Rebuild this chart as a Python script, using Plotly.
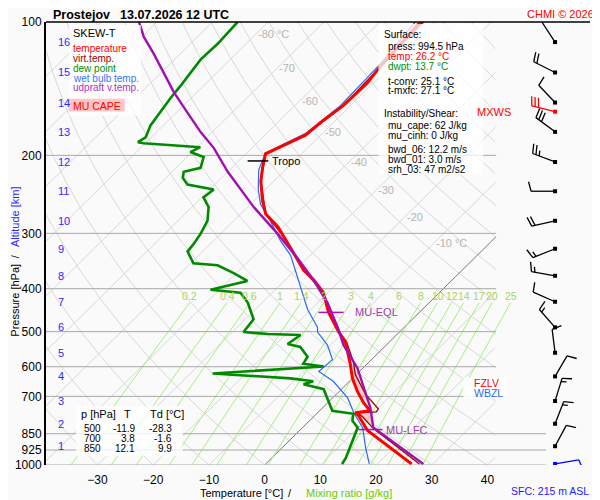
import numpy as np
import plotly.graph_objects as go

# ---- sounding: pressure [hPa], temperature [deg C] ----
temp_p = [100.0, 101.5, 125.8, 137.3, 154.5, 166.8, 180.1, 192.5, 198.4, 213.2, 229.0, 253.7,
          271.2, 289.8, 305.0, 332.8, 363.0, 382.0, 408.4, 452.4, 501.0, 527.4, 593.0, 637.5,
          681.3, 724.4, 754.7, 762.4, 774.2, 806.6, 836.0, 994.5]
temp_t = [-52.2, -52.7, -51.8, -51.1, -51.3, -52.2, -52.7, -55.4, -56.5, -54.5, -52.3, -48.4,
          -45.5, -41.0, -38.2, -33.3, -28.5, -24.9, -20.8, -16.3, -10.9, -7.9, -2.9, 0.0,
          3.2, 6.5, 9.1, 6.8, 7.9, 10.2, 12.2, 26.2]

virt_p = [100.0, 125.8, 154.5, 180.1, 198.4, 229.0, 271.2, 305.0, 363.0, 408.4, 452.4, 501.0,
          527.4, 584.1, 624.6, 691.8, 724.4, 747.0, 758.6, 762.4, 778.1, 827.5, 994.5]
virt_t = [-52.2, -51.8, -51.3, -52.7, -56.5, -52.3, -45.5, -38.2, -28.5, -20.8, -16.2, -10.8,
          -7.7, -2.9, -0.2, 5.2, 8.2, 10.2, 10.4, 7.2, 8.8, 12.9, 27.6]

dewp_p = [100.0, 112.0, 121.6, 130.6, 139.6, 148.4, 162.7, 171.2, 182.2, 186.8, 187.8, 191.7,
          196.6, 201.8, 213.4, 217.8, 224.6, 232.8, 238.8, 248.8, 261.7, 281.2, 300.4, 316.5,
          329.6, 350.5, 354.1, 368.7, 384.2, 402.3, 408.4, 429.8, 469.0, 488.6, 501.0, 506.3,
          508.9, 533.2, 541.2, 569.6, 590.6, 599.5, 621.3, 637.5, 647.3, 657.4, 674.3, 717.0,
          754.7, 766.3, 794.3, 823.3, 879.9, 964.8, 994.5]
dewp_t = [-85.5, -85.1, -85.3, -84.6, -84.1, -83.7, -82.8, -82.3, -81.0, -81.5, -80.3, -69.4,
          -70.3, -67.0, -65.6, -67.9, -67.0, -64.9, -59.3, -59.7, -57.0, -54.7, -53.6, -53.0,
          -52.7, -49.5, -44.8, -40.5, -36.6, -41.6, -35.7, -32.6, -28.5, -28.1, -28.0, -23.3,
          -17.2, -17.9, -15.1, -12.0, -11.5, -7.3, -26.0, -11.1, -6.5, -7.7, -3.2, -0.2,
          2.3, 6.6, 7.7, 9.9, 11.3, 13.3, 13.7]

wetb_p = [100.0, 125.8, 154.5, 178.4, 197.6, 215.6, 238.8, 257.9, 281.2, 311.6, 336.3, 382.3,
          445.5, 488.6, 501.0, 535.7, 578.3, 615.0, 647.3, 705.7, 762.4, 823.3, 912.1, 994.5]
wetb_t = [-53.6, -52.2, -51.8, -53.0, -56.6, -54.8, -51.3, -48.2, -43.4, -38.0, -33.5, -27.6,
          -20.6, -15.6, -14.7, -10.6, -7.0, -7.3, -2.9, 2.7, 6.5, 10.8, 14.9, 18.6]

parc_p = [100.0, 108.1, 117.9, 130.6, 144.2, 160.2, 177.5, 192.6, 217.8, 261.7, 300.4, 341.6,
          382.3, 429.8, 493.3, 535.7, 605.2, 743.2, 823.3, 994.5]
parc_t = [-103.2, -99.6, -94.8, -89.4, -84.1, -78.0, -72.0, -66.8, -60.0, -48.9, -39.8, -31.7,
          -24.9, -18.3, -11.5, -7.7, -0.9, 8.6, 12.7, 28.3]

# CAPE areas (outline)
cape1_p = [590.6, 624.6, 688.0, 724.4, 698.9, 664.1, 631.0]
cape1_t = [-2.7, 0.2, 4.8, 7.3, 5.0, 2.2, -0.2]
cape2_p = [762.4, 762.4, 823.3, 778.1]
cape2_t = [7.2, 9.7, 12.7, 8.8]

# levels
tropo_p, tropo_t = 205.9, [-58.4, -54.7]
eql_p, eql_t = 452.4, [-18.1, -13.6]
lfc_p, lfc_t = 831.8, [10.4, 14.7]
fzlv_p, wbzl_p, mxws_p = 653.0, 689.0, 159.4

# altitude [km] and wind
alt_km = list(range(1, 17))
alt_p = [907, 807, 717, 631, 558, 489, 428, 374, 325, 281, 241, 207, 177, 152, 130, 111]
wind_dir = [28, 21, 17, 30, 353, 319, 294, 280, 248, 257, 270, 291, 307, 317, 297, 327]
wind_spd = [10, 15, 15, 10, 10, 15, 10, 15, 15, 20, 10, 25, 30, 10, 20, 10]
sfc_dir, sfc_spd = 80, 10
mxws_dir, mxws_spd = 284, 30

# texts
p_ticks = [100, 200, 300, 400, 500, 600, 700, 850, 925, 1000]
t_ticks = [-30, -20, -10, 0, 10, 20, 30, 40]
iso_labels = [-80, -70, -60, -50, -40, -30, -20, -10]
iso_label_p = [106.3, 127.3, 150.7, 177.5, 206.8, 239.9, 275.6, 316.2]
mr_vals = [0.2, 0.4, 0.6, 1, 1.4, 2, 3, 4, 6, 8, 10, 12, 14, 17, 20, 25]
mr_text = ["0.2", "0.4", "0.6", "1", "1.4", "2", "3", "4", "6", "8", "10", "12", "14", "17", "20", "25"]
tab_p = [500, 700, 850]
tab_t = [-11.9, 3.8, 12.1]
tab_td = [-28.3, -1.6, 9.9]
sfc_press, sfc_temp, sfc_dwpt = 994.5, 26.2, 13.7
t_conv, t_mxfc = 25.1, 27.1
mu_cape, mu_cinh = 62, 0
bwd_06, bwd_01, srh_03 = 12.2, 3.0, 47

# ---- geometry (in page pixels; the page body adds an 8px margin) ----
OFF = 8
W, H = 600 - OFF, 500 - OFF
L, R, TOP, BOT = 45, 590, 15, 465
XMIN, XMAX = -39.25, 58.42
PX_DEG = (R - L) / (XMAX - XMIN)
PX_LN = (BOT - TOP) / np.log(10)
SKEW = PX_LN / PX_DEG
XCLIP = XMIN + (496 - L) / PX_DEG
XCLIP_LOW = XMIN + (546 - L) / PX_DEG
BARB_X = XMIN + (555 - L) / PX_DEG
FONT = "Liberation Sans, Arial, sans-serif"
BG = "#fafafa"


def sx(t, p):
    return list(np.asarray(t, float) + SKEW * np.log(1000.0 / np.asarray(p, float)))


def pxx(x):
    return (x - L) / (R - L)


def pxy(y):
    return (BOT - y) / (BOT - TOP)


fig = go.Figure()

# background lines: isotherms and dry adiabats
plev = np.geomspace(1000, 100, 300)
gx, gy = [], []
for t in range(-120, 50, 10):
    if t == 0:
        continue
    xs = t + SKEW * np.log(1000 / plev)
    gx += [v if v <= XCLIP else None for v in xs] + [None]
    gy += list(plev) + [None]
for th in range(-40, 200, 10):
    tt = (th + 273.15) * (plev / 1000) ** 0.2857 - 273.15
    xs = tt + SKEW * np.log(1000 / plev)
    gx += [v if v <= XCLIP else None for v in xs] + [None]
    gy += list(plev) + [None]
fig.add_trace(go.Scatter(x=gx, y=gy, mode="lines", line=dict(color="#d8d8d8", width=1),
                         hoverinfo="skip"))

zx = 0 + SKEW * np.log(1000 / plev)
fig.add_trace(go.Scatter(x=[v if v <= XCLIP else None for v in zx], y=plev, mode="lines",
                         line=dict(color="#777777", width=1), hoverinfo="skip"))

# mixing ratio lines
mx, my = [], []
pm = np.geomspace(1000, 430, 40)
for w in mr_vals:
    e = w * pm / (622 + w)
    a = np.log(e / 6.112)
    td = 243.5 * a / (17.67 - a)
    mx += sx(td, pm) + [None]
    my += list(pm) + [None]
fig.add_trace(go.Scatter(x=mx, y=my, mode="lines",
                         line=dict(color="#a4f07c", width=1), hoverinfo="skip"))

# isobars
ix, iy = [], []
for p in p_ticks[1:]:
    ix += [XMIN, XCLIP_LOW if p >= 850 else XCLIP, None]
    iy += [p, p, None]
fig.add_trace(go.Scatter(x=ix, y=iy, mode="lines", line=dict(color="#a8a8a8", width=1),
                         hoverinfo="skip"))

# CAPE
for cp, ct in ((cape1_p, cape1_t), (cape2_p, cape2_t)):
    fig.add_trace(go.Scatter(x=sx(ct, cp), y=cp, mode="lines", fill="toself",
                             fillcolor="rgba(250,170,170,0.6)", line=dict(width=0),
                             hoverinfo="skip"))

# profiles
fig.add_trace(go.Scatter(x=sx(wetb_t, wetb_p), y=wetb_p, mode="lines",
                         line=dict(color="#2a6cf0", width=1.2), hoverinfo="skip"))
fig.add_trace(go.Scatter(x=sx(dewp_t, dewp_p), y=dewp_p, mode="lines",
                         line=dict(color="#008a00", width=2.6), hoverinfo="skip"))
fig.add_trace(go.Scatter(x=sx(virt_t, virt_p), y=virt_p, mode="lines",
                         line=dict(color="#9a0000", width=1.3), hoverinfo="skip"))
fig.add_trace(go.Scatter(x=sx(temp_t, temp_p), y=temp_p, mode="lines",
                         line=dict(color="#ff0000", width=3), hoverinfo="skip"))
fig.add_trace(go.Scatter(x=sx(parc_t, parc_p), y=parc_p, mode="lines",
                         line=dict(color="#a010b0", width=2.4), hoverinfo="skip"))

# level markers
for lp, lt, col in ((tropo_p, tropo_t, "black"), (eql_p, eql_t, "#b010b8"),
                    (lfc_p, lfc_t, "#b010b8")):
    fig.add_trace(go.Scatter(x=sx(lt, [lp, lp]), y=[lp, lp], mode="lines",
                             line=dict(color=col, width=1.5), hoverinfo="skip"))


# wind barbs (staff toward where the wind blows from, feathers on the right)
def barb(p0, wdir, wspd):
    a = np.radians(wdir)
    ux, uy = np.sin(a), -np.cos(a)
    k = np.radians(15)
    fx = -uy * np.cos(k) + ux * np.sin(k)
    fy = ux * np.cos(k) + uy * np.sin(k)
    segs = [(0, 0, 24 * ux, 24 * uy)]
    pos = 24
    for _ in range(wspd // 10):
        segs.append((pos * ux, pos * uy, pos * ux + 10 * fx, pos * uy + 10 * fy))
        pos -= 3.5
    if wspd % 10 >= 5:
        segs.append((pos * ux, pos * uy, pos * ux + 5.5 * fx, pos * uy + 5.5 * fy))
    xs, ys = [], []
    for x0, y0, x1, y1 in segs:
        xs += [BARB_X + x0 / PX_DEG, BARB_X + x1 / PX_DEG, None]
        ys += [p0 * np.exp(y0 / PX_LN), p0 * np.exp(y1 / PX_LN), None]
    return xs, ys


bx, by = [], []
for p, d, s in zip(alt_p, wind_dir, wind_spd):
    xs, ys = barb(p, d, s)
    bx += xs
    by += ys
barb_sets = [((bx, by), "black", alt_p),
             (barb(mxws_p, mxws_dir, mxws_spd), "#ff0000", [mxws_p]),
             (barb(sfc_press, sfc_dir, sfc_spd), "#0000ff", [sfc_press])]
for (xs, ys), col, pts in barb_sets:
    fig.add_trace(go.Scatter(x=xs, y=ys, mode="lines", line=dict(color=col, width=1.3),
                             hoverinfo="skip"))
    fig.add_trace(go.Scatter(x=[BARB_X] * len(pts), y=pts, mode="markers",
                             marker=dict(color=col, size=4, symbol="square"), hoverinfo="skip"))

# ---- shapes ----
shapes = [
    dict(type="line", xref="paper", yref="paper", x0=0, x1=1, y0=1, y1=1,
         line=dict(color="black", width=1.5)),
    dict(type="rect", xref="paper", yref="paper", x0=pxx(68), x1=pxx(140), y0=pxy(18), y1=pxy(110),
         fillcolor="rgba(255,255,255,0.75)", line=dict(width=0), layer="above"),
    dict(type="rect", xref="paper", yref="paper", x0=pxx(68), x1=pxx(124), y0=pxy(93), y1=pxy(106),
         fillcolor="#ffc6c6", line=dict(width=0), layer="above"),
    dict(type="rect", xref="paper", yref="paper", x0=pxx(378), x1=pxx(483), y0=pxy(17), y1=pxy(170),
         fillcolor="rgba(255,255,255,0.75)", line=dict(width=0), layer="above"),
    dict(type="rect", xref="paper", yref="paper", x0=pxx(75), x1=pxx(182), y0=pxy(405), y1=pxy(456),
         fillcolor="rgba(255,255,255,0.8)", line=dict(width=0), layer="above"),
    dict(type="rect", xref="paper", yref="paper", x0=pxx(463), x1=pxx(507), y0=pxy(376), y1=pxy(398),
         fillcolor="rgba(255,255,255,0.85)", line=dict(width=0), layer="above"),
    dict(type="line", xref="paper", yref="y", x0=pxx(465), x1=pxx(471),
         y0=np.log10(fzlv_p), y1=np.log10(fzlv_p), line=dict(color="#ff0000", width=1.5), layer="above"),
    dict(type="line", xref="paper", yref="y", x0=pxx(465), x1=pxx(471),
         y0=np.log10(wbzl_p), y1=np.log10(wbzl_p), line=dict(color="#2a6cf0", width=1.5), layer="above"),
    dict(type="line", xref="paper", yref="y", x0=pxx(515), x1=pxx(521),
         y0=np.log10(mxws_p), y1=np.log10(mxws_p), line=dict(color="#ff0000", width=1.5)),
]
for km, p in zip(alt_km, alt_p):
    shapes.append(dict(type="line", xref="paper", yref="y", x0=pxx(47), x1=pxx(53),
                       y0=np.log10(p), y1=np.log10(p), line=dict(color="#2a2aff", width=1.5)))

# ---- annotations ----
ann = []


def txt(x, y, text, color="black", size=10, xanchor="left", xref="paper", yref="paper", **kw):
    ann.append(dict(x=x, y=y, xref=xref, yref=yref, text=text, showarrow=False,
                    xanchor=xanchor, yanchor="middle", font=dict(family=FONT, size=size, color=color),
                    **kw))


txt(pxx(50), pxy(8), "<b>Prostejov</b>", size=12.5)
txt(pxx(117), pxy(8), "<b>13.07.2026 12 UTC</b>", size=12.5)
txt(pxx(596), pxy(7), "CHMI © 2026", color="#ff0000", size=11, xanchor="right")

txt(pxx(70), pxy(26), "SKEW-T", size=11)
for yy, s, c in ((42, "temperature", "#ff0000"), (52, "virt.temp.", "#a00000"),
                 (62, "dew point", "#009000"), (72, "wet bulb temp.", "#3377ff"),
                 (82, "udpraft v.temp.", "#b030c8")):
    txt(pxx(70), pxy(yy), s, color=c)
txt(pxx(96), pxy(100), "MU CAPE", color="#ff0000", size=10.5, xanchor="center")

info = [(28, 382, "Surface:", "black"),
        (40, 386, f"press: {sfc_press} hPa", "black"),
        (50, 386, f"temp: {sfc_temp} °C", "#ff0000"),
        (60, 386, f"dwpt: {sfc_dwpt} °C", "#009000"),
        (75, 386, f"t-conv: {t_conv} °C", "black"),
        (85, 386, f"t-mxfc: {t_mxfc} °C", "black"),
        (108, 382, "Instability/Shear:", "black"),
        (120, 386, f"mu_cape: {mu_cape} J/kg", "black"),
        (130, 386, f"mu_cinh: {mu_cinh} J/kg", "black"),
        (145, 386, f"bwd_06: {bwd_06} m/s", "black"),
        (155, 386, f"bwd_01: {bwd_01} m/s", "black"),
        (165, 386, f"srh_03: {srh_03} m2/s2", "black")]
for yy, xx, s, c in info:
    txt(pxx(xx), pxy(yy), s, color=c)

txt(pxx(78), pxy(413), "p [hPa]", size=11)
txt(pxx(127), pxy(413), "T", size=11, xanchor="center")
txt(pxx(147), pxy(413), "Td [°C]", size=11)
for i, (p, t, td) in enumerate(zip(tab_p, tab_t, tab_td)):
    yy = 428 + 10.3 * i
    txt(pxx(102), pxy(yy), str(p), xanchor="right")
    txt(pxx(136), pxy(yy), f"{t:.1f}", xanchor="right")
    txt(pxx(173), pxy(yy), f"{td:.1f}", xanchor="right")

for t, p in zip(iso_labels, iso_label_p):
    s = f"{t} °C" if t in (-80, -10) else str(t)
    txt(sx([t], [p])[0], np.log10(p), s, color="#b4b4b4", size=11, xref="x", yref="y")

for w, s in zip(mr_vals, mr_text):
    e = w * 430 / (622 + w)
    a = np.log(e / 6.112)
    td = 243.5 * a / (17.67 - a)
    txt(sx([td], [430])[0], np.log10(415), s, color="#a6d860", size=10.5, xanchor="center",
        xref="x", yref="y")

for km, p in zip(alt_km, alt_p):
    txt(pxx(55), np.log10(p), str(km), color="#2a2aff", size=11, yref="y")

txt(sx([tropo_t[1] + 0.4], [tropo_p])[0], np.log10(tropo_p), "Tropo", size=11, xref="x", yref="y")
txt(sx([eql_t[1] + 1.6], [eql_p])[0], np.log10(eql_p), "MU-EQL", color="#a040a8", size=11,
    xref="x", yref="y")
txt(sx([lfc_t[1] + 0.2], [lfc_p])[0], np.log10(lfc_p), "MU-LFC", color="#a040a8", size=11,
    xref="x", yref="y")
txt(pxx(472), np.log10(fzlv_p), "FZLV", color="#ff0000", size=10.5, yref="y")
txt(pxx(472), np.log10(wbzl_p), "WBZL", color="#2a6cf0", size=10.5, yref="y")
txt(pxx(513), np.log10(mxws_p), "MXWS", color="#ff0000", size=11, xanchor="right", yref="y")
txt(pxx(591), pxy(491), "SFC: 215 m ASL", color="#2020ff", size=10.5, xanchor="right")

txt(pxx(197), pxy(493), "Temperature [°C]", size=11)
txt(pxx(289), pxy(493), "/", size=11, xanchor="center")
txt(pxx(303), pxy(493), "Mixing ratio [g/kg]", color="#66cc00", size=11)
txt(pxx(14), pxy(298), "Pressure [hPa]", size=11, xanchor="center", textangle=-90)
txt(pxx(14), pxy(253), "/", size=11, xanchor="center", textangle=-90)
txt(pxx(14), pxy(213), "Altitude [km]", color="#2a2aff", size=11, xanchor="center", textangle=-90)

fig.update_layout(
    width=W, height=H,
    margin=dict(l=L - OFF, r=600 - R, t=TOP - OFF, b=500 - BOT),
    paper_bgcolor=BG, plot_bgcolor=BG,
    showlegend=False,
    shapes=shapes, annotations=ann,
    font=dict(family=FONT, size=12, color="black"),
    xaxis=dict(range=[XMIN, XMAX], tickvals=t_ticks, showgrid=False, zeroline=False,
               showline=False, ticks="outside", ticklen=4, tickcolor="rgba(0,0,0,0)",
               tickfont=dict(family=FONT, size=12, color="black")),
    yaxis=dict(type="log", range=[3, 2], tickvals=p_ticks, ticktext=[str(p) for p in p_ticks],
               showgrid=False, zeroline=False, showline=True, linecolor="black", linewidth=2,
               ticks="", tickfont=dict(family=FONT, size=12, color="black")),
)

fig.write_html("out.html")
